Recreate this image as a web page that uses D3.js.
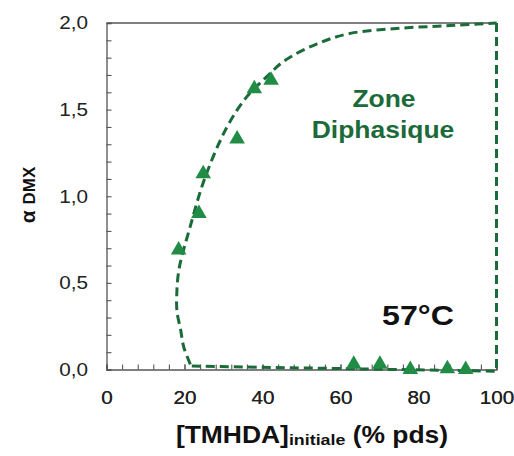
<!DOCTYPE html>
<html>
<head>
<meta charset="utf-8">
<script src="https://cdn.jsdelivr.net/npm/d3@7"></script>
<style>
  body { margin: 0; background: #fff; }
  svg text { font-family: "Liberation Sans", Arial, sans-serif; }
</style>
</head>
<body>
<svg id="chart" width="514" height="456"></svg>
<script>
// measured points (triangles)
const triX = [18.5, 23.7, 24.8, 33.5, 37.9, 42.2, 63.4, 70.1, 77.9, 87.4, 92.1];
const triY = [0.69, 0.90, 1.13, 1.33, 1.62, 1.67, 0.03, 0.03, 0.0, 0.005, 0.0];

// hand-drawn boundary of the two-phase zone
const curveX = [21.5, 19.8, 19.0, 18.1, 18.0, 18.6, 21.4, 25.3, 30.9, 36.0, 41.1, 45.5, 54.0, 62.5, 75.4, 88.2, 100];
const curveY = [0.03, 0.13, 0.23, 0.33, 0.42, 0.58, 0.82, 1.11, 1.40, 1.575, 1.69, 1.78, 1.88, 1.94, 1.97, 1.985, 2.0];
const edgeX = [100, 100, 21.5];
const edgeY = [2.0, -0.01, 0.02];

const xLabels = [0, 20, 40, 60, 80, 100];
const yLabels = [0, 0.5, 1.0, 1.5, 2.0];

const svg = d3.select("#chart");
const x = d3.scaleLinear().domain([0, 100]).range([106.5, 496.5]);
const y = d3.scaleLinear().domain([0, 2]).range([369.5, 23]);

const axisCol = "#555";
const green = "#1b6b39";
const triGreen = "#218c45";
const stretch = 1.15;

// frame top line
svg.append("line")
    .attr("x1", x(0)).attr("x2", x(100))
    .attr("y1", y(2)).attr("y2", y(2))
    .attr("stroke", axisCol).attr("stroke-width", 1.3);

const fmt = v => d3.format(".1f")(v).replace(".", ",");

// y axis, minor ticks every 0.1, ticks inside
const yAxis = svg.append("g")
    .attr("transform", `translate(${x(0)},0)`)
    .call(d3.axisLeft(y)
        .tickValues(d3.range(0, 2.01, 0.1))
        .tickSize(-5)
        .tickPadding(16)
        .tickFormat(d => yLabels.some(v => Math.abs(v - d) < 1e-6) ? fmt(d) : ""));

// x axis, minor ticks every 4
const xAxis = svg.append("g")
    .attr("transform", `translate(0,${y(0)})`)
    .call(d3.axisBottom(x)
        .tickValues(d3.range(0, 101, 4).concat(xLabels))
        .tickSize(-5)
        .tickPadding(22)
        .tickFormat(d => xLabels.includes(d) ? d : ""));

[yAxis, xAxis].forEach(g => {
    g.select(".domain").attr("stroke", axisCol).attr("stroke-width", 1.3);
    g.selectAll(".tick line").attr("stroke", axisCol).attr("stroke-width", 1.1);
    g.selectAll(".tick text")
        .attr("fill", "#222")
        .attr("font-size", 18)
        .style("font-family", "'Liberation Sans', Arial, sans-serif")
        .attr("transform", `scale(${stretch},1)`);
});
xAxis.selectAll(".tick text").attr("x", 0);

// dashed boundary
const line = d3.line().x(d => x(d[0])).y(d => y(d[1]));
svg.append("path")
    .datum(d3.zip(curveX, curveY))
    .attr("d", line.curve(d3.curveCatmullRom.alpha(0.5)))
    .attr("fill", "none").attr("stroke", green)
    .attr("stroke-width", 3).attr("stroke-dasharray", "9,5");
svg.append("path")
    .datum(d3.zip(edgeX, edgeY))
    .attr("d", d3.line().x(d => x(d[0])).y(d => y(d[1]))(d3.zip(edgeX, edgeY)))
    .attr("fill", "none").attr("stroke", green)
    .attr("stroke-width", 3).attr("stroke-dasharray", "9,5");

// triangles
svg.append("g")
    .selectAll("path")
    .data(d3.zip(triX, triY))
    .join("path")
    .attr("d", d3.symbol(d3.symbolTriangle).size(105))
    .attr("transform", d => `translate(${x(d[0])},${y(d[1])})`)
    .attr("fill", triGreen);

// labels
function label(txt, px, py, size, color, anchor) {
    return svg.append("text")
        .attr("transform", `translate(${px},${py}) scale(${stretch},1)`)
        .attr("text-anchor", anchor || "middle")
        .attr("font-size", size)
        .attr("font-weight", "bold")
        .attr("fill", color)
        .text(txt);
}
label("Zone", 384, 107, 23, green);
label("Diphasique", 383, 138, 23, green);
label("57°C", 418, 325, 28, "#111");

// x title with subscript
const xt = svg.append("text")
    .attr("transform", `translate(312,443) scale(${stretch},1)`)
    .attr("text-anchor", "middle")
    .attr("font-weight", "bold")
    .attr("fill", "#111");
xt.append("tspan").attr("font-size", 23).text("[TMHDA]");
xt.append("tspan").attr("font-size", 15.5).attr("dy", 2).text("initiale");
xt.append("tspan").attr("font-size", 23).attr("dy", -2).text(" (% pds)");

// y title
const yt = svg.append("text")
    .attr("transform", "translate(35,195) rotate(-90)")
    .attr("text-anchor", "middle")
    .attr("font-weight", "bold")
    .attr("fill", "#111");
yt.append("tspan").attr("font-size", 21).text("α ");
yt.append("tspan").attr("font-size", 17).text("DMX");
</script>
</body>
</html>
